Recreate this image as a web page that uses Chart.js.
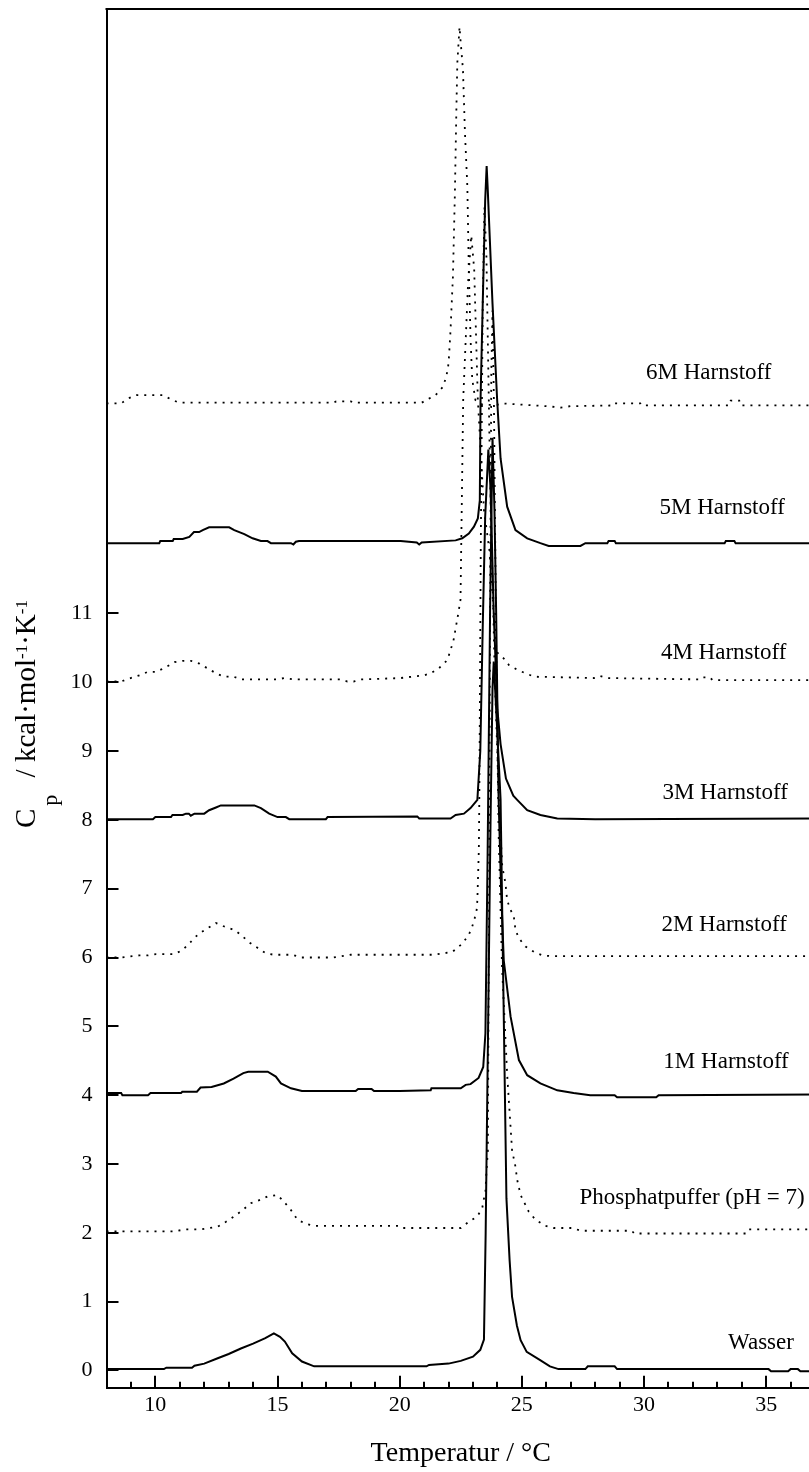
<!DOCTYPE html>
<html>
<head>
<meta charset="utf-8">
<script src="https://cdn.jsdelivr.net/npm/chart.js@4.4.0/dist/chart.umd.min.js"></script>
<style>
  html, body { margin: 0; padding: 0; background: #fff; overflow: hidden; }
  canvas { display: block; }
</style>
</head>
<body>
<canvas id="dsc" width="815" height="1472"></canvas>
<script>
const serif = "'Liberation Serif', 'Times New Roman', serif";

// DSC-Kurven: [Temperatur in °C, Cp in kcal/(mol K)], jeweils vertikal versetzt
const wasser = [
  [8, 0.02], [10.35, 0.02], [10.45, 0.04], [11.5, 0.04], [11.6, 0.07], [12.0, 0.10], [12.5, 0.17],
  [13.0, 0.24], [13.5, 0.32], [14.0, 0.39], [14.5, 0.47], [14.85, 0.54], [15.1, 0.49], [15.3, 0.42],
  [15.6, 0.25], [16.0, 0.13], [16.5, 0.06], [21.1, 0.06], [21.2, 0.08], [22.0, 0.10], [22.5, 0.14],
  [23.0, 0.20], [23.3, 0.30], [23.45, 0.45], [23.52, 2.0], [23.62, 5.0], [23.72, 8.0], [23.8, 9.9],
  [23.85, 10.3], [23.95, 9.6], [24.13, 8.3], [24.25, 5.4], [24.37, 2.5], [24.5, 1.6], [24.6, 1.07],
  [24.8, 0.65], [24.95, 0.44], [25.2, 0.27], [25.75, 0.15], [26.15, 0.06], [26.5, 0.02], [27.6, 0.02],
  [27.7, 0.06], [28.8, 0.06], [28.9, 0.02], [35.1, 0.02], [35.2, -0.01], [35.9, -0.01], [36.0, 0.02],
  [36.3, 0.02], [36.4, -0.01], [37, -0.01]
];
const phosphat = [
  [8, 2.02], [10.78, 2.02], [11.2, 2.05], [11.87, 2.05], [12.55, 2.09], [12.89, 2.16], [13.23, 2.24],
  [13.57, 2.33], [13.91, 2.43], [14.3, 2.48], [14.6, 2.53], [15.0, 2.55], [15.27, 2.45], [15.55, 2.33],
  [15.82, 2.19], [16.17, 2.13], [16.5, 2.10], [20.0, 2.10], [20.1, 2.07], [22.5, 2.07], [22.83, 2.16],
  [23.18, 2.24], [23.38, 2.36], [23.44, 2.48], [23.51, 2.6], [23.55, 2.87], [23.61, 3.2], [23.66, 7.0],
  [23.7, 11.0], [23.75, 14.5], [23.8, 15.4], [23.86, 14.0], [23.95, 10.5], [24.05, 7.8], [24.19, 5.86],
  [24.4, 4.3], [24.6, 3.2], [24.74, 2.96], [24.81, 2.77], [24.95, 2.55], [25.28, 2.31], [25.56, 2.19],
  [25.97, 2.10], [26.3, 2.07], [27.1, 2.07], [27.4, 2.03], [29.5, 2.03], [29.6, 1.99], [34.2, 1.99],
  [34.3, 2.05], [37, 2.05]
];
const harnstoff1 = [
  [8, 4.03], [8.6, 4.03], [8.65, 4.0], [9.7, 4.0], [9.8, 4.03], [11.05, 4.03], [11.1, 4.05], [11.7, 4.05],
  [11.85, 4.11], [12.3, 4.12], [12.8, 4.17], [13.2, 4.24], [13.6, 4.32], [13.8, 4.34], [14.6, 4.34],
  [14.93, 4.27], [15.14, 4.17], [15.55, 4.10], [16.0, 4.06], [18.2, 4.06], [18.3, 4.09], [18.85, 4.09],
  [18.95, 4.06], [20.0, 4.06], [21.27, 4.07], [21.3, 4.10], [22.5, 4.10], [22.7, 4.15], [22.9, 4.16],
  [23.23, 4.25], [23.42, 4.41], [23.51, 4.9], [23.6, 7.5], [23.7, 11.0], [23.8, 13.55], [23.88, 12.5],
  [23.95, 11.0], [24.05, 8.3], [24.15, 7.0], [24.26, 5.96], [24.54, 5.14], [24.88, 4.51], [25.22, 4.29],
  [25.76, 4.17], [26.45, 4.07], [27.12, 4.03], [27.8, 4.0], [28.8, 4.0], [28.9, 3.97], [30.5, 3.97],
  [30.6, 4.0], [37, 4.01]
];
const harnstoff2 = [
  [8, 6.0], [8.6, 6.0], [9.33, 6.03], [9.69, 6.03], [10.03, 6.05], [10.78, 6.05], [11.12, 6.11],
  [11.43, 6.22], [11.76, 6.34], [12.11, 6.42], [12.48, 6.50], [12.82, 6.45], [13.23, 6.40], [13.5, 6.33],
  [13.84, 6.22], [14.18, 6.14], [14.52, 6.06], [14.85, 6.04], [15.61, 6.04], [15.95, 6.0], [17.3, 6.0],
  [17.99, 6.04], [21.4, 6.04], [22.15, 6.08], [22.56, 6.20], [22.83, 6.33], [22.97, 6.45], [23.07, 6.57],
  [23.15, 6.69], [23.18, 6.83], [23.2, 7.08], [23.24, 7.56], [23.26, 8.29], [23.32, 12.0], [23.4, 15.5],
  [23.47, 16.9], [23.55, 16.2], [23.7, 13.0], [23.9, 10.0], [24.06, 8.29], [24.13, 7.8], [24.2, 7.32],
  [24.33, 7.08], [24.4, 6.83], [24.54, 6.69], [24.67, 6.60], [24.74, 6.40], [24.88, 6.28], [25.15, 6.16],
  [25.5, 6.08], [25.85, 6.03], [26.2, 6.02], [37, 6.02]
];
const harnstoff3 = [
  [8, 8.01], [9.9, 8.01], [10.0, 8.04], [10.64, 8.04], [10.7, 8.07], [11.12, 8.07], [11.25, 8.09],
  [11.37, 8.09], [11.45, 8.06], [11.6, 8.09], [12.0, 8.09], [12.2, 8.14], [12.48, 8.18], [12.68, 8.21],
  [14.05, 8.21], [14.32, 8.17], [14.66, 8.09], [15.0, 8.04], [15.34, 8.04], [15.48, 8.01], [16.98, 8.01],
  [17.05, 8.04], [20.72, 8.05], [20.8, 8.02], [22.08, 8.02], [22.29, 8.07], [22.63, 8.09], [22.9, 8.17],
  [23.18, 8.29], [23.3, 9.0], [23.4, 10.8], [23.5, 12.4], [23.63, 13.38], [23.72, 12.8], [23.85, 11.0],
  [24.0, 9.6], [24.13, 9.1], [24.35, 8.6], [24.65, 8.35], [24.81, 8.29], [25.22, 8.14], [25.76, 8.07],
  [26.45, 8.02], [28.0, 8.01], [37, 8.02]
];
const harnstoff4 = [
  [8, 10.01], [8.6, 10.01], [8.9, 10.05], [9.35, 10.10], [9.69, 10.15], [10.03, 10.15], [10.44, 10.22],
  [10.78, 10.29], [11.12, 10.31], [11.46, 10.31], [11.8, 10.27], [12.14, 10.20], [12.48, 10.13],
  [12.8, 10.08], [13.2, 10.08], [13.5, 10.04], [15.0, 10.04], [15.27, 10.06], [15.67, 10.04], [17.59, 10.04],
  [17.86, 10.01], [18.12, 10.01], [18.4, 10.04], [20.04, 10.06], [20.5, 10.08], [21.0, 10.10],
  [21.27, 10.13], [21.6, 10.20], [21.95, 10.32], [22.2, 10.6], [22.4, 11.0], [22.49, 11.2], [22.6, 14.1],
  [22.8, 15.8], [22.93, 16.49], [23.05, 16.0], [23.2, 14.1], [23.45, 12.5], [23.68, 11.9], [23.96, 10.44],
  [24.2, 10.37], [24.47, 10.25], [24.81, 10.18], [25.15, 10.13], [25.5, 10.08], [28.0, 10.06],
  [28.2, 10.09], [28.5, 10.06], [32.3, 10.04], [32.4, 10.07], [32.7, 10.07], [32.8, 10.03], [37, 10.03]
];
const harnstoff5 = [
  [8, 12.02], [10.16, 12.02], [10.2, 12.05], [10.71, 12.05], [10.75, 12.08], [11.12, 12.08],
  [11.39, 12.11], [11.58, 12.18], [11.79, 12.18], [11.94, 12.21], [12.2, 12.25], [13.02, 12.25],
  [13.23, 12.21], [13.64, 12.15], [13.98, 12.09], [14.32, 12.05], [14.59, 12.05], [14.73, 12.02],
  [15.55, 12.02], [15.65, 12.0], [15.75, 12.04], [15.88, 12.05], [20.04, 12.05], [20.7, 12.03],
  [20.8, 12.0], [20.9, 12.03], [22.29, 12.06], [22.56, 12.09], [22.83, 12.16], [23.04, 12.26],
  [23.2, 12.38], [23.28, 12.64], [23.31, 14.1], [23.4, 15.5], [23.5, 17.0], [23.56, 17.5], [23.6, 17.2],
  [23.8, 15.5], [23.99, 14.1], [24.13, 13.25], [24.4, 12.55], [24.74, 12.21], [25.22, 12.09],
  [25.76, 12.02], [26.1, 11.98], [27.4, 11.98], [27.6, 12.02], [28.5, 12.02], [28.55, 12.05],
  [28.8, 12.05], [28.85, 12.02], [33.3, 12.02], [33.35, 12.05], [33.7, 12.05], [33.75, 12.02], [37, 12.02]
];
const harnstoff6 = [
  [8, 14.05], [8.6, 14.05], [8.87, 14.12], [9.22, 14.17], [10.3, 14.17], [10.64, 14.11], [10.97, 14.06],
  [17.3, 14.06], [17.4, 14.08], [18.0, 14.08], [18.1, 14.06], [20.9, 14.06], [21.2, 14.12],
  [21.47, 14.17], [21.77, 14.29], [21.88, 14.41], [21.97, 14.54], [22.01, 14.68], [22.08, 15.1],
  [22.18, 15.9], [22.26, 17.1], [22.32, 18.3], [22.36, 19.0], [22.45, 19.52], [22.49, 19.33],
  [22.59, 18.9], [22.67, 18.0], [22.77, 17.2], [22.83, 16.0], [22.9, 15.0], [22.97, 14.4], [23.1, 14.1],
  [23.4, 14.03], [24.0, 14.03], [24.2, 14.05], [26.0, 14.01], [26.6, 13.99], [27.0, 14.01], [28.7, 14.02],
  [28.75, 14.05], [29.85, 14.05], [29.9, 14.02], [33.5, 14.02], [33.55, 14.09], [33.9, 14.09],
  [33.95, 14.02], [37, 14.02]
];

const curves = [wasser, phosphat, harnstoff1, harnstoff2, harnstoff3, harnstoff4, harnstoff5, harnstoff6];
const curveNames = ['Wasser', 'Phosphatpuffer (pH = 7)', '1M Harnstoff', '2M Harnstoff',
  '3M Harnstoff', '4M Harnstoff', '5M Harnstoff', '6M Harnstoff'];
const dotted = [false, true, false, true, false, true, false, true];

// Beschriftung der Kurven (Mittelpunkt in Achsenkoordinaten)
const labelT = [34.79, 31.97, 33.36, 33.28, 33.32, 33.26, 33.2, 32.65];
const labelCp = [0.40, 2.50, 4.48, 6.48, 8.39, 10.43, 12.53, 14.49];

const yTicks = [0, 1, 2, 3, 4, 5, 6, 7, 8, 9, 10, 11];

// Achsentitel mit tief-/hochgestellten Teilen (after = zusätzlicher Abstand danach)
const yTitleParts = [
  { text: 'C', size: 29, shift: 0, after: 3 },
  { text: 'p', size: 22, shift: 22, after: 10 },
  { text: ' / kcal·mol', size: 29, shift: 0, after: 0 },
  { text: '-1', size: 17, shift: -8, after: 0 },
  { text: '·K', size: 29, shift: 0, after: 0 },
  { text: '-1', size: 17, shift: -8, after: 0 }
];

const datasets = curves.map((pts, i) => ({
  label: curveNames[i],
  data: pts.map(p => ({ x: p[0], y: p[1] })),
  borderColor: '#000',
  borderWidth: dotted[i] ? 1.8 : 2,
  borderDash: dotted[i] ? [2, 6] : [],
  pointRadius: 0,
  tension: 0,
  fill: false
}));

// Ticks nach innen, oberer Rahmen, Kurvennamen, y-Titel
const decorations = {
  id: 'decorations',
  afterDraw(chart) {
    const { ctx, chartArea, scales } = chart;
    const x = scales.x, y = scales.y;
    ctx.save();
    ctx.strokeStyle = '#000';
    ctx.lineWidth = 2;
    ctx.beginPath();
    ctx.moveTo(chartArea.left - 1, chartArea.top);
    ctx.lineTo(chartArea.right, chartArea.top);
    for (let t = 9; t <= 37; t++) {
      const px = Math.round(x.getPixelForValue(t));
      const len = t % 5 === 0 ? 12 : 6;
      ctx.moveTo(px, chartArea.bottom);
      ctx.lineTo(px, chartArea.bottom - len);
    }
    yTicks.forEach(v => {
      const py = Math.round(y.getPixelForValue(v));
      ctx.moveTo(chartArea.left, py);
      ctx.lineTo(chartArea.left + 12, py);
    });
    ctx.stroke();

    ctx.fillStyle = '#000';
    ctx.font = '23px ' + serif;
    ctx.textAlign = 'center';
    ctx.textBaseline = 'middle';
    curveNames.forEach((name, i) => {
      ctx.fillText(name, x.getPixelForValue(labelT[i]), y.getPixelForValue(labelCp[i]));
    });

    ctx.translate(35, 828);
    ctx.rotate(-Math.PI / 2);
    ctx.textAlign = 'left';
    ctx.textBaseline = 'alphabetic';
    let pos = 0;
    yTitleParts.forEach(part => {
      ctx.font = part.size + 'px ' + serif;
      ctx.fillText(part.text, pos, part.shift);
      pos += ctx.measureText(part.text).width + part.after;
    });
    ctx.restore();
  }
};

const tickFont = { family: serif, size: 22 };

new Chart(document.getElementById('dsc'), {
  type: 'line',
  data: { datasets },
  options: {
    responsive: false,
    animation: false,
    layout: { padding: { top: 9, left: 0, right: 0, bottom: 0 } },
    plugins: { legend: { display: false }, tooltip: { enabled: false } },
    scales: {
      x: {
        type: 'linear',
        min: 8,
        max: 37,
        grid: { display: false, drawTicks: false },
        border: { display: true, color: '#000', width: 2 },
        ticks: {
          stepSize: 1,
          autoSkip: false,
          maxRotation: 0,
          padding: 4,
          color: '#000',
          font: tickFont,
          callback: v => (v % 5 === 0 ? String(v) : '')
        },
        title: {
          display: true,
          text: 'Temperatur / °C',
          color: '#000',
          font: { family: serif, size: 28 },
          padding: { top: 0, bottom: 2 }
        },
        afterFit: s => {
          s.height = 84.3;
          s.paddingLeft = 0;
          s.paddingRight = 0;
        }
      },
      y: {
        type: 'linear',
        min: -0.25,
        max: 19.78,
        grid: { display: false, drawTicks: false },
        border: { display: true, color: '#000', width: 2 },
        ticks: { padding: 14, color: '#000', font: tickFont },
        afterBuildTicks: s => { s.ticks = yTicks.map(v => ({ value: v })); },
        afterFit: s => {
          s.width = 106.5;
          s.paddingTop = 0;
          s.paddingBottom = 0;
        }
      }
    }
  },
  plugins: [decorations]
});
</script>
</body>
</html>
